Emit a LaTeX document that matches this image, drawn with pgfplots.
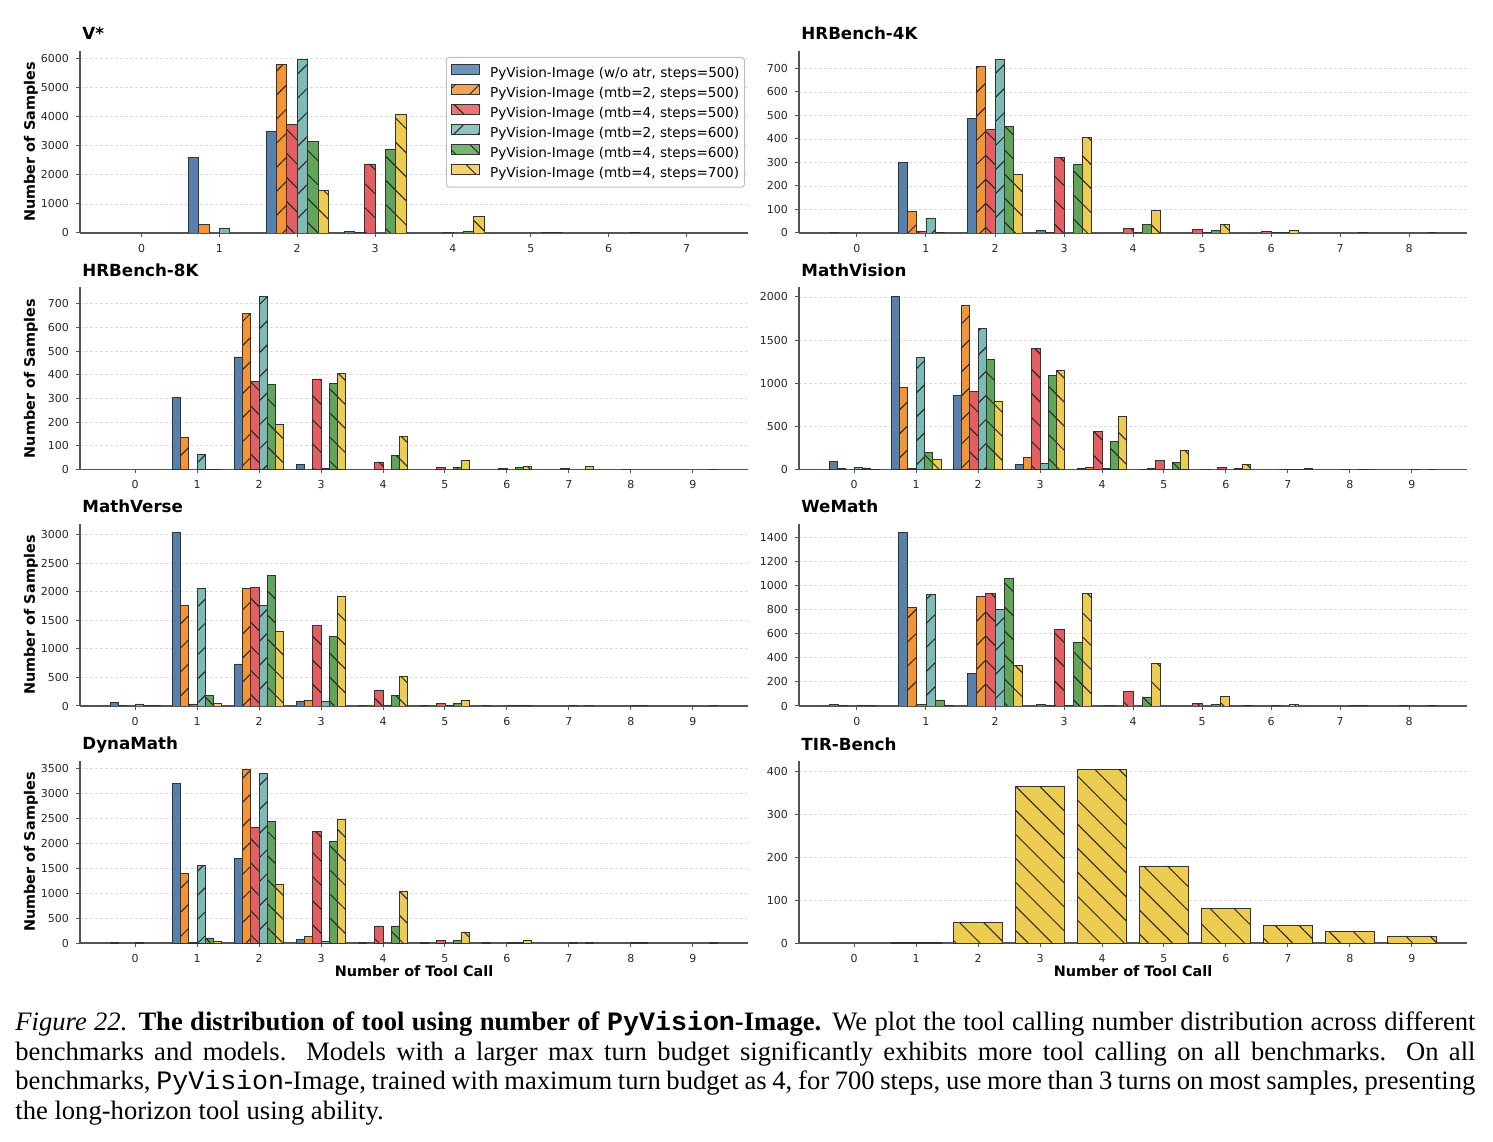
\documentclass[border=0pt]{standalone}
\usepackage{pgfplots}
\pgfplotsset{compat=1.18}
\usepackage{pgfplotstable}
\usepackage{fontspec}
\setmainfont{Liberation Serif}
\setmonofont{Liberation Mono}
\newfontfamily\dv{DejaVu Sans}
\usetikzlibrary{patterns.meta}

\definecolor{cBlue}{HTML}{5780AB}
\definecolor{cOrange}{HTML}{F39436}
\definecolor{cRed}{HTML}{E35F61}
\definecolor{cTeal}{HTML}{7DBBB6}
\definecolor{cGreen}{HTML}{61A658}
\definecolor{cYellow}{HTML}{EECC51}
\definecolor{edgec}{HTML}{333333}
\definecolor{hatchc}{HTML}{222222}
\definecolor{axc}{HTML}{555555}
\definecolor{gridc}{HTML}{DDDDDD}

% counts per number of tool calls: a = w/o atr (500), b = mtb2 (500), c = mtb4 (500),
% d = mtb2 (600), e = mtb4 (600), f = mtb4 (700)
\pgfplotstableread{
x a b c d e f
0 0 0 0 0 0 0
1 2590 290 0 175 0 0
2 3490 5800 3720 5965 3150 1455
3 40 25 2375 0 2890 4070
4 0 0 20 0 70 560
5 0 0 0 0 10 25
6 0 0 0 0 0 8
7 0 0 0 0 0 0
}\tVstar
\pgfplotstableread{
x a b c d e f
0 3 0 0 0 0 0
1 300 90 5 64 4 0
2 487 707 440 737 455 248
3 10 3 320 0 290 405
4 0 0 18 1 35 94
5 0 0 14 2 10 36
6 0 0 5 1 3 9
7 0 0 0 0 0 3
8 0 0 0 0 0 1
}\tFourK
\pgfplotstableread{
x a b c d e f
0 0 0 0 0 0 0
1 305 137 0 64 1 1
2 475 660 370 731 358 190
3 20 0 382 3 362 405
4 0 0 32 0 58 141
5 0 0 8 0 10 38
6 0 0 3 0 10 12
7 0 0 3 0 0 12
8 0 0 1 0 0 0
9 0 0 0 0 0 1
}\tEightK
\pgfplotstableread{
x a b c d e f
0 93 8 0 23 18 5
1 2008 950 15 1298 194 116
2 860 1907 903 1640 1279 795
3 54 140 1407 66 1093 1147
4 8 22 446 8 326 620
5 2 8 105 2 78 225
6 3 0 22 0 15 62
7 0 0 5 3 5 15
8 0 0 1 0 5 5
9 0 0 0 3 0 5
}\tMathVision
\pgfplotstableread{
x a b c d e f
0 58 15 0 35 8 8
1 3035 1766 35 2053 181 41
2 737 2053 2070 1760 2281 1298
3 88 90 1409 76 1222 1912
4 10 0 281 3 181 520
5 3 0 47 2 40 105
6 10 0 0 5 8 10
7 0 0 0 3 0 8
8 0 0 0 3 3 0
9 0 0 0 0 0 2
}\tMathVerse
\pgfplotstableread{
x a b c d e f
0 14 3 0 5 3 0
1 1436 816 15 927 50 8
2 268 905 930 800 1054 335
3 15 8 636 3 528 935
4 3 0 119 0 75 349
5 0 0 20 0 15 80
6 5 0 0 5 0 13
7 0 0 0 0 5 7
8 0 0 2 0 0 2
}\tWeMath
\pgfplotstableread{
x a b c d e f
0 20 0 0 8 0 0
1 3192 1395 15 1563 101 30
2 1703 3474 2327 3394 2428 1167
3 80 127 2227 40 2045 2481
4 10 0 342 0 342 1033
5 5 0 60 0 60 221
6 10 0 0 5 5 50
7 0 0 0 3 0 3
8 0 0 0 3 3 0
9 0 0 0 0 0 3
}\tDynaMath
\pgfplotstableread{
x f
0 0
1 2
2 47
3 366
4 405
5 180
6 80
7 41
8 27
9 16.5
}\tTIR

\pgfplotsset{
  panel/.style={
    scale only axis, width=334pt, height=91pt, anchor=south west,
    axis x line*=bottom, axis y line*=left,
    axis line style={draw=axc, line width=0.6pt},
    ymin=0,
    tick align=outside, major tick length=2pt,
    tick style={draw=axc, line width=0.5pt},
    ymajorgrids,
    grid style={draw=gridc, line width=0.4pt, dash pattern=on 1.6pt off 0.9pt},
    tick label style={font=\dv\fontsize{5.5}{6.6}\selectfont, text=black!85},
    /pgf/number format/assume math mode=true,
    /pgf/number format/1000 sep={},
    scaled y ticks=false,
    every axis title shift=0pt,
    title style={font=\dv\bfseries\fontsize{8.35}{10}\selectfont, at={(rel axis cs:0,1)},
      anchor=base west, yshift=5.5pt, xshift=1pt, inner sep=0pt},
    ylabel style={font=\dv\bfseries\fontsize{7.2}{8.6}\selectfont, at={(rel axis cs:0,0.5)},
      anchor=center, yshift=24.5pt, inner sep=0pt},
    xlabel style={font=\dv\bfseries\fontsize{7.2}{8.6}\selectfont, at={(rel axis cs:0.5,0)},
      anchor=center, yshift=-14pt, inner sep=0pt},
  },
  barbase/.style={ybar, bar width=0.1333, draw=edgec, line width=0.4pt,
    unbounded coords=discard, y filter/.expression={y==0 ? nan : y},
    legend image code/.code={\draw[##1, sharp corners] (0pt,-0.2pt) rectangle (14pt,4.8pt); \path (19pt,0pt);}},
  hatchF/.style={postaction={pattern={Lines[angle=45,distance=8.5pt,line width=0.5pt]}, pattern color=hatchc}},
  hatchB/.style={postaction={pattern={Lines[angle=-45,distance=8.5pt,line width=0.5pt]}, pattern color=hatchc}},
  s1/.style={barbase, bar shift=-0.3333, fill=cBlue},
  s2/.style={barbase, bar shift=-0.2, fill=cOrange, hatchF},
  s3/.style={barbase, bar shift=-0.0667, fill=cRed, hatchB},
  s4/.style={barbase, bar shift=0.0667, fill=cTeal, hatchF},
  s5/.style={barbase, bar shift=0.2, fill=cGreen, hatchB},
  s6/.style={barbase, bar shift=0.3333, fill=cYellow, hatchB},
}

\newcommand{\sixbars}[1]{%
  \addplot[s1] table[x=x,y=a] {#1};
  \addplot[s2] table[x=x,y=b] {#1};
  \addplot[s3] table[x=x,y=c] {#1};
  \addplot[s4] table[x=x,y=d] {#1};
  \addplot[s5] table[x=x,y=e] {#1};
  \addplot[s6] table[x=x,y=f] {#1};
}

\begin{document}
\begin{tikzpicture}
\path[use as bounding box] (0pt,0pt) rectangle (746.5pt,570.5pt);

% V*
\begin{axis}[panel, at={(40pt,454pt)}, xmin=-0.79, xmax=7.79, ymax=6258,
  xtick={0,...,7}, ytick={0,1000,...,6000}, title={V*}, ylabel={Number of Samples},
  legend cell align=left,
  legend style={at={(rel axis cs:1,1)}, anchor=north east, xshift=-1.5pt, yshift=-3pt,
    draw=black!25, line width=0.5pt, rounded corners=1.5pt, fill=white, fill opacity=0.85, text opacity=1,
    font=\dv\fontsize{6.8}{8}\selectfont, inner xsep=2.5pt, inner ysep=3.3pt, row sep=1.8pt,
    nodes={inner sep=0pt, text height=5pt, text depth=1.4pt}}]
  \addplot[s1] table[x=x,y=a] {\tVstar}; \addlegendentry{PyVision-Image (w/o atr, steps=500)}
  \addplot[s2] table[x=x,y=b] {\tVstar}; \addlegendentry{PyVision-Image (mtb=2, steps=500)}
  \addplot[s3] table[x=x,y=c] {\tVstar}; \addlegendentry{PyVision-Image (mtb=4, steps=500)}
  \addplot[s4] table[x=x,y=d] {\tVstar}; \addlegendentry{PyVision-Image (mtb=2, steps=600)}
  \addplot[s5] table[x=x,y=e] {\tVstar}; \addlegendentry{PyVision-Image (mtb=4, steps=600)}
  \addplot[s6] table[x=x,y=f] {\tVstar}; \addlegendentry{PyVision-Image (mtb=4, steps=700)}
\end{axis}

% HRBench-4K
\begin{axis}[panel, at={(399.5pt,454pt)}, xmin=-0.84, xmax=8.84, ymax=774,
  xtick={0,...,8}, ytick={0,100,...,700}, title={HRBench-4K}]
  \sixbars{\tFourK}
\end{axis}

% HRBench-8K
\begin{axis}[panel, at={(40pt,335.75pt)}, xmin=-0.89, xmax=9.89, ymax=768,
  xtick={0,...,9}, ytick={0,100,...,700}, title={HRBench-8K}, ylabel={Number of Samples}]
  \sixbars{\tEightK}
\end{axis}

% MathVision
\begin{axis}[panel, at={(399.5pt,335.75pt)}, xmin=-0.89, xmax=9.89, ymax=2110,
  xtick={0,...,9}, ytick={0,500,...,2000}, title={MathVision}]
  \sixbars{\tMathVision}
\end{axis}

% MathVerse
\begin{axis}[panel, at={(40pt,217.5pt)}, xmin=-0.89, xmax=9.89, ymax=3187,
  xtick={0,...,9}, ytick={0,500,...,3000}, title={MathVerse}, ylabel={Number of Samples}]
  \sixbars{\tMathVerse}
\end{axis}

% WeMath
\begin{axis}[panel, at={(399.5pt,217.5pt)}, xmin=-0.84, xmax=8.84, ymax=1508,
  xtick={0,...,8}, ytick={0,200,...,1400}, title={WeMath}]
  \sixbars{\tWeMath}
\end{axis}

% DynaMath
\begin{axis}[panel, at={(40pt,99pt)}, xmin=-0.89, xmax=9.89, ymax=3648,
  xtick={0,...,9}, ytick={0,500,...,3500}, title={DynaMath}, ylabel={Number of Samples},
  xlabel={Number of Tool Call}]
  \sixbars{\tDynaMath}
\end{axis}

% TIR-Bench
\begin{axis}[panel, at={(399.5pt,99pt)}, xmin=-0.89, xmax=9.89, ymax=425,
  xtick={0,...,9}, ytick={0,100,...,400}, title={TIR-Bench}, xlabel={Number of Tool Call}]
  \addplot[ybar, bar width=0.8, bar shift=0, fill=cYellow, draw=edgec, line width=0.4pt, hatchB,
    unbounded coords=discard, y filter/.expression={y==0 ? nan : y}]
    table[x=x,y=f] {\tTIR};
\end{axis}

% caption
\node[anchor=north west, inner sep=0pt, text width=730pt, align=justify,
  font=\fontsize{13.3}{14.75}\selectfont] at (7.5pt,65pt) {%
\hyphenpenalty=10000 \exhyphenpenalty=10000
\textit{Figure 22.} \textbf{The distribution of tool using number of \texttt{\bfseries PyVision}-Image.} We plot the tool calling number distribution across different\linebreak
benchmarks and models.  Models with a larger max turn budget significantly exhibits more tool calling on all benchmarks.  On all\linebreak
benchmarks, \texttt{PyVision}-Image, trained with maximum turn budget as 4, for 700 steps, use more than 3 turns on most samples, presenting\linebreak
the long-horizon tool using ability.};
\end{tikzpicture}
\end{document}
